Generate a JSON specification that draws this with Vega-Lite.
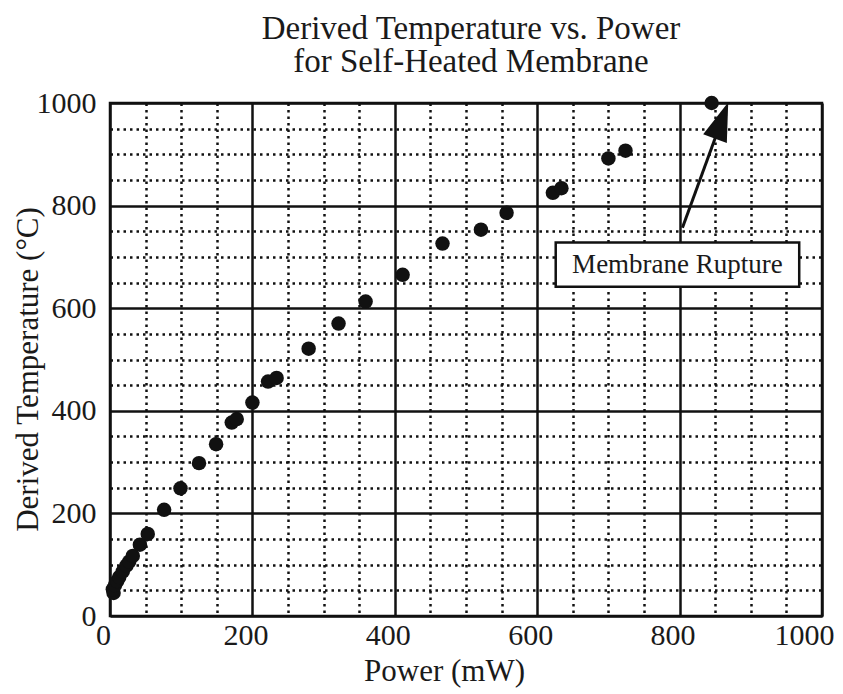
{
  "$schema": "https://vega.github.io/schema/vega-lite/v6.json",
  "width": 712,
  "height": 513,
  "autosize": "none",
  "padding": {"left": 110, "top": 103, "right": 21, "bottom": 78},
  "background": "white",
  "title": {
    "text": ["Derived Temperature vs. Power", "for Self-Heated Membrane"],
    "font": "Liberation Serif",
    "fontSize": 33,
    "fontWeight": "normal",
    "color": "#1a1a1a",
    "lineHeight": 33,
    "offset": 9,
    "dx": 5
  },
  "config": {
    "view": {"stroke": "#111", "strokeWidth": 2.5},
    "axis": {
      "labelFont": "Liberation Serif",
      "titleFont": "Liberation Serif",
      "labelFontSize": 30,
      "titleFontSize": 31,
      "titleFontWeight": "normal",
      "labelColor": "#1a1a1a",
      "titleColor": "#1a1a1a",
      "domain": false,
      "ticks": false,
      "gridColor": "#111",
      "gridOpacity": 1,
      "tickCount": 50,
      "format": "d"
    }
  },
  "layer": [
    {
      "data": {
        "values": [
          {"power": 5, "temp": 45},
          {"power": 4, "temp": 52},
          {"power": 7, "temp": 60},
          {"power": 10, "temp": 68},
          {"power": 13, "temp": 76},
          {"power": 18, "temp": 87},
          {"power": 23, "temp": 98},
          {"power": 27, "temp": 106},
          {"power": 32, "temp": 117},
          {"power": 42, "temp": 139},
          {"power": 53, "temp": 160},
          {"power": 76, "temp": 207},
          {"power": 99, "temp": 249},
          {"power": 125, "temp": 298},
          {"power": 149, "temp": 335},
          {"power": 171, "temp": 377},
          {"power": 178, "temp": 384},
          {"power": 200, "temp": 416},
          {"power": 222, "temp": 457},
          {"power": 234, "temp": 464},
          {"power": 279, "temp": 521},
          {"power": 321, "temp": 570},
          {"power": 359, "temp": 613},
          {"power": 411, "temp": 665},
          {"power": 467, "temp": 726},
          {"power": 521, "temp": 753},
          {"power": 557, "temp": 786},
          {"power": 622, "temp": 825},
          {"power": 634, "temp": 834},
          {"power": 700, "temp": 892},
          {"power": 724, "temp": 907},
          {"power": 845, "temp": 1000}
        ]
      },
      "mark": {"type": "circle", "size": 210, "color": "#111", "opacity": 1},
      "encoding": {
        "x": {
          "field": "power",
          "type": "quantitative",
          "scale": {"domain": [0, 1000], "nice": false, "zero": false},
          "axis": {
            "title": "Power (mW)",
            "values": [0, 50, 100, 150, 200, 250, 300, 350, 400, 450, 500, 550, 600, 650, 700, 750, 800, 850, 900, 950, 1000],
            "tickCount": 50,
            "format": "d",
            "labelExpr": "datum.value % 200 === 0 ? datum.label : ''",
            "labelFlush": false,
            "labelOverlap": false,
            "labelPadding": 4,
            "labelOffset": {"condition": {"test": "datum.value === 1000", "value": -18}, "value": -7},
            "titlePadding": 6,
            "titleX": 334,
            "grid": true,
            "gridWidth": 2.5,
            "gridDash": {"condition": {"test": "datum.value % 200 === 0", "value": []}, "value": [2.5, 4]}
          }
        },
        "y": {
          "field": "temp",
          "type": "quantitative",
          "scale": {"domain": [0, 1000], "nice": false, "zero": false},
          "axis": {
            "title": "Derived Temperature (°C)",
            "values": [0, 50, 100, 150, 200, 250, 300, 350, 400, 450, 500, 550, 600, 650, 700, 750, 800, 850, 900, 950, 1000],
            "tickCount": 50,
            "format": "d",
            "labelExpr": "datum.value % 200 === 0 ? datum.label : ''",
            "labelFlush": false,
            "labelOverlap": false,
            "labelPadding": 14,
            "titleX": -82,
            "titleY": 266,
            "titleAlign": "center",
            "titleBaseline": "middle",
            "titleAngle": -90,
            "grid": true,
            "gridWidth": 2.5,
            "gridDash": {"condition": {"test": "datum.value % 200 === 0", "value": []}, "value": [2.5, 4]}
          }
        }
      }
    },
    {
      "data": {"values": [{"x1": 804, "y1": 757, "x2": 859, "y2": 966}]},
      "mark": {"type": "rule", "color": "#111", "strokeWidth": 3},
      "encoding": {
        "x": {"field": "x1", "type": "quantitative"},
        "y": {"field": "y1", "type": "quantitative"},
        "x2": {"field": "x2"},
        "y2": {"field": "y2"}
      }
    },
    {
      "data": {"values": [{"x": 859, "y": 966}]},
      "mark": {"type": "point", "shape": "M0,-1L-0.65,1L0.65,1Z", "size": 1500, "angle": 20, "filled": true, "color": "#111", "opacity": 1},
      "encoding": {
        "x": {"field": "x", "type": "quantitative"},
        "y": {"field": "y", "type": "quantitative"}
      }
    },
    {
      "data": {"values": [{"x1": 626, "x2": 968, "y1": 728, "y2": 642}]},
      "mark": {"type": "rect", "fill": "white", "stroke": "#111", "strokeWidth": 2.5},
      "encoding": {
        "x": {"field": "x1", "type": "quantitative"},
        "x2": {"field": "x2"},
        "y": {"field": "y1", "type": "quantitative"},
        "y2": {"field": "y2"}
      }
    },
    {
      "data": {"values": [{"x": 797, "y": 685, "label": "Membrane Rupture"}]},
      "mark": {"type": "text", "font": "Liberation Serif", "fontSize": 27, "color": "#1a1a1a", "align": "center", "baseline": "middle"},
      "encoding": {
        "x": {"field": "x", "type": "quantitative"},
        "y": {"field": "y", "type": "quantitative"},
        "text": {"field": "label"}
      }
    }
  ]
}
